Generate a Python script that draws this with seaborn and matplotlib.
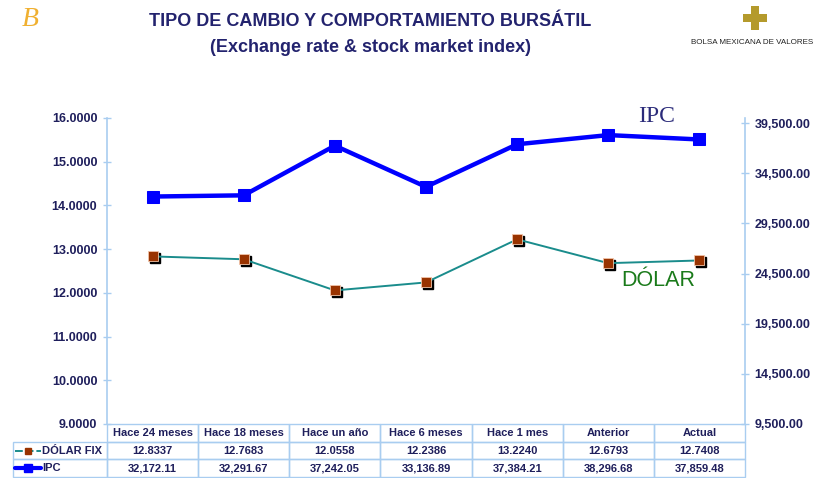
import numpy as np
import pandas as pd
import matplotlib
matplotlib.use("Agg")
import matplotlib.pyplot as plt
import matplotlib.transforms as mtrans
from matplotlib import font_manager
import matplotlib.patches as mpatches
import seaborn as sns

# ---- data ----
categories = ["Hace 24 meses", "Hace 18 meses", "Hace un año", "Hace 6 meses",
              "Hace 1 mes", "Anterior", "Actual"]
dolar = [12.8337, 12.7683, 12.0558, 12.2386, 13.2240, 12.6793, 12.7408]
ipc = [32172.11, 32291.67, 37242.05, 33136.89, 37384.21, 38296.68, 37859.48]
left_ticks = [9, 10, 11, 12, 13, 14, 15, 16]
right_ticks = [9500, 14500, 19500, 24500, 29500, 34500, 39500]
series_labels = ["DÓLAR FIX", "IPC"]

sns.set_style("white")
plt.rcParams["font.family"] = ["Liberation Sans", "DejaVu Sans"]

def has_font(name):
    try:
        font_manager.findfont(font_manager.FontProperties(family=name), fallback_to_default=False)
        return True
    except Exception:
        return False

narrow = has_font("Liberation Sans Narrow")

NAVY = "#1f1f5c"
SPINE = "#a9cdf0"
TEAL = "#1a8c8c"
BROWN = "#993300"
BLUE = "#0000ff"

W, H = 819, 478
fig = plt.figure(figsize=(W / 100, H / 100), dpi=100)
ax = fig.add_axes([107 / W, (H - 424) / H, 638 / W, 306 / H])
ax2 = ax.twinx()

x = np.arange(len(categories))
df = pd.DataFrame({"cat": x, "dolar": dolar, "ipc": ipc})

# DOLAR line (left axis)
sns.lineplot(data=df, x="cat", y="dolar", ax=ax, color=TEAL, linewidth=1.4,
             marker="s", markersize=7.5, markerfacecolor=BROWN,
             markeredgecolor="#f2c4a8", markeredgewidth=0.6, zorder=3)
shadow = ax.transData + mtrans.ScaledTranslation(2 / 100, -2 / 100, fig.dpi_scale_trans)
ax.plot(df["cat"], df["dolar"], linestyle="none", marker="s", markersize=7.5,
        color="black", transform=shadow, zorder=2.5)

# IPC line (right axis)
sns.lineplot(data=df, x="cat", y="ipc", ax=ax2, color=BLUE, linewidth=3.2,
             marker="s", markersize=8, markerfacecolor=BLUE,
             markeredgecolor=BLUE, zorder=3)

ax.set_xlim(-0.5, len(categories) - 0.5)
ax.set_ylim(9, 16)
ax.set_yticks(left_ticks)
ax.set_yticklabels([f"{v:.4f}" for v in left_ticks])
ax2.set_ylim(9500, 40000)
ax2.set_yticks(right_ticks)
ax2.set_yticklabels([f"{v:,.2f}" for v in right_ticks])
ax.set_xticks([])
ax.set_xlabel("")
ax.set_ylabel("")
ax2.set_ylabel("")

for a in (ax, ax2):
    for s in a.spines.values():
        s.set_visible(False)
    a.grid(False)
ax.spines["left"].set_visible(True)
ax.spines["left"].set_color(SPINE)
ax.spines["left"].set_linewidth(1.2)
ax2.spines["right"].set_visible(True)
ax2.spines["right"].set_color(SPINE)
ax2.spines["right"].set_linewidth(1.2)

ax.tick_params(axis="y", direction="inout", length=6, width=1, color=SPINE,
               labelcolor=NAVY, labelsize=9, pad=4)
ax2.tick_params(axis="y", direction="inout", length=6, width=1, color=SPINE,
                labelcolor=NAVY, labelsize=9, pad=4)
for lab in ax.get_yticklabels() + ax2.get_yticklabels():
    lab.set_fontweight("bold")

# ---- table ----
cell_text = [[series_labels[0]] + [f"{v:.4f}" for v in dolar],
             [series_labels[1]] + [f"{v:,.2f}" for v in ipc]]
col_labels = [""] + categories
lab_w = 94 / 638
tab_h = (477 - 424) / 306
widths = [94] + [91.14] * len(categories)
tbl = ax.table(cellText=cell_text, colLabels=col_labels, cellLoc="center",
               colWidths=[w / sum(widths) for w in widths],
               bbox=[-lab_w, -tab_h, 1 + lab_w, tab_h])
tbl.auto_set_font_size(False)
tbl.set_fontsize(8)
for (r, c), cell in tbl.get_celld().items():
    cell.set_edgecolor(SPINE)
    cell.set_linewidth(1.0)
    cell.set_facecolor("none")
    t = cell.get_text()
    t.set_color(NAVY)
    t.set_fontweight("bold")
    if r == 0 and c == 0:
        cell.visible_edges = ""
    if r > 0 and c == 0:
        cell._loc = "left"
        cell.PAD = 0.31
        t.set_ha("left")

# legend keys inside the table label cells
row_y = [-(450.5 - 424) / 306, -(468 - 424) / 306]
kx = [(15 - 107) / 638, (28 - 107) / 638, (41 - 107) / 638]
ax.plot(kx, [row_y[0]] * 3, transform=ax.transAxes, clip_on=False, color=TEAL,
        linewidth=1.4, marker="s", markevery=[1], markersize=5,
        markerfacecolor=BROWN, markeredgecolor=BROWN, dashes=(4, 1.5))
ax.plot(kx, [row_y[1]] * 3, transform=ax.transAxes, clip_on=False, color=BLUE,
        linewidth=3, marker="s", markevery=[1], markersize=6,
        markerfacecolor=BLUE, markeredgecolor=BLUE)

# ---- annotations ----
ax.text((657 - 107) / 638, (424 - 116) / 306, "IPC", transform=ax.transAxes,
        ha="center", va="center", fontsize=17, color="#2b2b7a",
        family=["Liberation Serif", "DejaVu Serif"])
if narrow:
    ax.text((658 - 107) / 638, (424 - 280) / 306, "DÓLAR", transform=ax.transAxes,
            ha="center", va="center", fontsize=17, color="#1a7a1a",
            family=["Liberation Sans Narrow", "Liberation Sans"])
else:
    ax.text((658 - 107) / 638, (424 - 280) / 306, "DÓLAR", transform=ax.transAxes,
            ha="center", va="center", fontsize=15.5, color="#1a7a1a")

# ---- titles ----
fig.text(370 / W, 1 - 22 / H, "TIPO DE CAMBIO Y COMPORTAMIENTO BURSÁTIL",
         ha="center", va="center", fontsize=13, fontweight="bold", color="#23236e")
fig.text(370 / W, 1 - 47 / H, "(Exchange rate & stock market index)",
         ha="center", va="center", fontsize=13, fontweight="bold", color="#23236e")

# ---- logos (decorative) ----
fig.text(752 / W, 1 - 43 / H, "BOLSA MEXICANA DE VALORES", ha="center", va="center",
         fontsize=5.8, color="#222222")
cx, cy = 755, 18
gold = "#b49a2c"
fig.patches.append(mpatches.Rectangle(((cx - 4) / W, 1 - (cy + 12) / H), 8 / W, 24 / H,
                                      transform=fig.transFigure, facecolor=gold,
                                      edgecolor="none"))
fig.patches.append(mpatches.Rectangle(((cx - 12) / W, 1 - (cy + 4) / H), 24 / W, 8 / H,
                                      transform=fig.transFigure, facecolor=gold,
                                      edgecolor="none"))
fig.text(30 / W, 1 - 20 / H, "B", ha="center", va="center", fontsize=20,
         color="#f0b030", family=["Liberation Serif", "DejaVu Serif"],
         style="italic")

fig.savefig("out.png", dpi=100, facecolor="white")
